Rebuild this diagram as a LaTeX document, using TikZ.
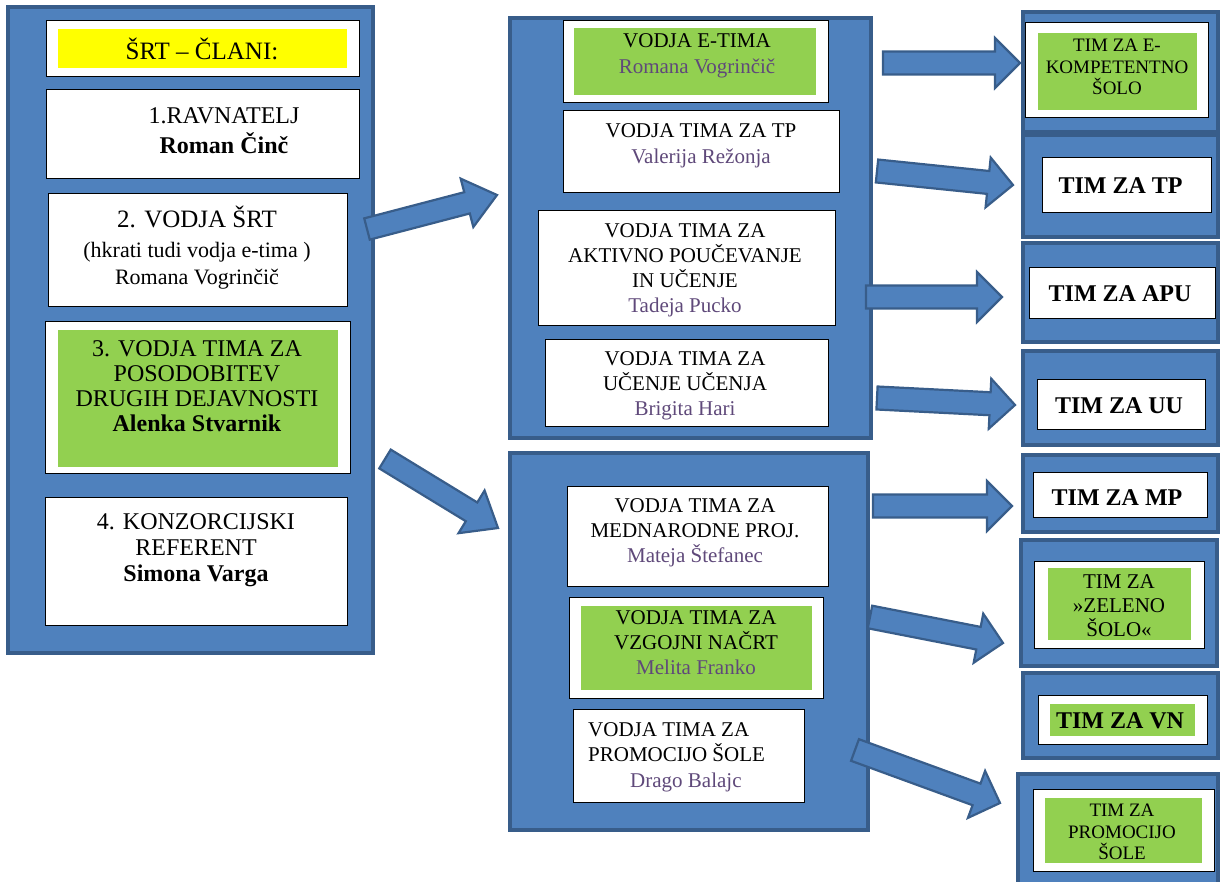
\documentclass[tikz,border=0pt]{standalone}
\usepackage{fontspec}
\setmainfont{Liberation Serif}
\usetikzlibrary{calc}
\definecolor{bblue}{HTML}{4F81BD}
\definecolor{bdark}{HTML}{385D8A}
\definecolor{lgreen}{HTML}{92D050}
\definecolor{yel}{HTML}{FFFF00}
\definecolor{purp}{HTML}{5F497A}
\newcommand{\myfs}[2]{\fontsize{#1}{#2}\selectfont}
\newcommand{\blockarr}[5]{%
  \draw[barrow] ($(#1)!#3!90:(#2)$) -- ($(#2)!#5!(#1)!#3!-90:(#1)$) -- ($(#2)!#5!(#1)!#4!-90:(#1)$) -- (#2)
     -- ($(#2)!#5!(#1)!#4!90:(#1)$) -- ($(#2)!#5!(#1)!#3!90:(#1)$) -- ($(#1)!#3!-90:(#2)$) -- cycle;}
\tikzset{
  panel/.style={draw=bdark, fill=bblue, line width=4.5pt, inner sep=0pt, outer sep=0pt},
  wbox/.style={draw=black, fill=white, line width=1pt, inner sep=0pt},
  gbox/.style={fill=lgreen, inner sep=0pt},
  ybox/.style={fill=yel, inner sep=0pt},
  txt/.style={align=center, inner sep=0pt},
  barrow/.style={draw=bdark, fill=bblue, line width=2.2pt, line join=miter},
}
\begin{document}
\begin{tikzpicture}[x=1pt, y=-1pt]
\useasboundingbox (0,0) rectangle (1224,882);
% ---------------- left panel
\node[panel, minimum width=365pt, minimum height=646pt] (lp) at (190.5,330) {};
\node[wbox, minimum width=313pt, minimum height=56pt] (l0) at (202.5,49) {};
\node[ybox, minimum width=289pt, minimum height=39pt] (l0y) at (202.5,48.5) {};
\node[txt, font=\myfs{25}{26}] (l0t) at (202,49) {ŠRT – ČLANI:};
\node[wbox, minimum width=313pt, minimum height=89pt] (l1) at (202.5,134.5) {};
\node[txt, font=\myfs{24}{30}] (l1t) at (224,131) {1.RAVNATELJ\\\textbf{Roman Činč}};
\node[wbox, minimum width=299pt, minimum height=113pt] (l2) at (197.5,250.5) {};
\node[txt, font=\myfs{22}{27}] (l2t) at (197,248) {{\myfs{25}{27}2. VODJA ŠRT}\\[3pt](hkrati tudi vodja e-tima )\\Romana Vogrinčič};
\node[wbox, minimum width=305pt, minimum height=152pt] (l3) at (197.5,398) {};
\node[gbox, minimum width=280pt, minimum height=137pt] (l3g) at (198,398.5) {};
\node[txt, font=\myfs{24}{25}] (l3t) at (197,386) {3. VODJA TIMA ZA\\POSODOBITEV\\DRUGIH DEJAVNOSTI\\\textbf{Alenka Stvarnik}};
\node[wbox, minimum width=302pt, minimum height=128pt] (l4) at (196,561) {};
\node[txt, font=\myfs{24}{26}] (l4t) at (196,550) {4. KONZORCIJSKI\\REFERENT\\\textbf{Simona Varga}};
% ---------------- middle top panel
\node[panel, minimum width=361pt, minimum height=420pt] (mt) at (690.5,228) {};
\node[wbox, minimum width=265pt, minimum height=82pt] (m1) at (695.5,62) {};
\node[gbox, minimum width=242pt, minimum height=67pt] (m1g) at (695,61.5) {};
\node[txt, font=\myfs{21}{26}] (m1t) at (697,56) {VODJA E-TIMA\\\textcolor{purp}{Romana Vogrinčič}};
\node[wbox, minimum width=276pt, minimum height=82pt] (m2) at (701,152) {};
\node[txt, font=\myfs{21}{26}] (m2t) at (701,146) {VODJA TIMA ZA TP\\\textcolor{purp}{Valerija Režonja}};
\node[wbox, minimum width=297pt, minimum height=115pt] (m3) at (686.5,268.5) {};
\node[txt, font=\myfs{21}{25}] (m3t) at (685,270) {VODJA TIMA ZA\\AKTIVNO POUČEVANJE\\IN UČENJE\\\textcolor{purp}{Tadeja Pucko}};
\node[wbox, minimum width=283pt, minimum height=87pt] (m4) at (686.5,383.5) {};
\node[txt, font=\myfs{21}{25}] (m4t) at (685,386) {VODJA TIMA ZA\\UČENJE UČENJA\\\textcolor{purp}{Brigita Hari}};
% ---------------- middle bottom panel
\node[panel, minimum width=358pt, minimum height=377pt] (mb) at (689,641.5) {};
\node[wbox, minimum width=261pt, minimum height=100pt] (m5) at (697.5,536) {};
\node[txt, font=\myfs{21}{25}] (m5t) at (695,533) {VODJA TIMA ZA\\MEDNARODNE PROJ.\\\textcolor{purp}{Mateja Štefanec}};
\node[wbox, minimum width=254pt, minimum height=101pt] (m6) at (696,647.5) {};
\node[gbox, minimum width=231pt, minimum height=84pt] (m6g) at (696.5,648) {};
\node[txt, font=\myfs{21}{25}] (m6t) at (696,643) {VODJA TIMA ZA\\VZGOJNI NAČRT\\\textcolor{purp}{Melita Franko}};
\node[wbox, minimum width=231pt, minimum height=93pt] (m7) at (688.5,755.5) {};
\node[align=left, inner sep=0pt, anchor=west, font=\myfs{21}{25}] (m7t) at (588,757) {VODJA TIMA ZA\\PROMOCIJO ŠOLE\\[1pt]\hspace*{42pt}\textcolor{purp}{Drago Balajc}};
% ---------------- right column
\node[panel, minimum width=195pt, minimum height=120pt] (r1) at (1120.5,72) {};
\node[wbox, minimum width=183pt, minimum height=95pt] (r1w) at (1116.5,70.5) {};
\node[gbox, minimum width=159pt, minimum height=77pt] (r1g) at (1117.5,71.5) {};
\node[txt, font=\myfs{19}{21.5}] (r1t) at (1117,67) {TIM ZA E-\\KOMPETENTNO\\ŠOLO};
\node[panel, minimum width=195pt, minimum height=102pt] (r2) at (1120.5,186) {};
\node[wbox, minimum width=169pt, minimum height=55pt] (r2w) at (1126.5,185.5) {};
\node[txt, font=\myfs{24}{26}\bfseries] (r2t) at (1120.5,186) {TIM ZA TP};
\node[panel, minimum width=195pt, minimum height=99pt] (r3) at (1120.5,292.5) {};
\node[wbox, minimum width=186pt, minimum height=51pt] (r3w) at (1122,293.5) {};
\node[txt, font=\myfs{24}{26}\bfseries] (r3t) at (1120,294) {TIM ZA APU};
\node[panel, minimum width=195pt, minimum height=94pt] (r4) at (1120.5,398) {};
\node[wbox, minimum width=168pt, minimum height=50pt] (r4w) at (1121,405) {};
\node[txt, font=\myfs{24}{26}\bfseries] (r4t) at (1119,406) {TIM ZA UU};
\node[panel, minimum width=195pt, minimum height=77pt] (r5) at (1120.5,493.5) {};
\node[wbox, minimum width=174pt, minimum height=44pt] (r5w) at (1120,495) {};
\node[txt, font=\myfs{24}{26}\bfseries] (r5t) at (1117,498) {TIM ZA MP};
\node[panel, minimum width=196pt, minimum height=126pt] (r6) at (1119,603) {};
\node[wbox, minimum width=170pt, minimum height=87pt] (r6w) at (1119,604.5) {};
\node[gbox, minimum width=143pt, minimum height=72pt] (r6g) at (1119.5,604) {};
\node[txt, font=\myfs{21}{24}] (r6t) at (1119,606) {TIM ZA\\»ZELENO\\ŠOLO«};
\node[panel, minimum width=195pt, minimum height=85pt] (r7) at (1120.5,715.5) {};
\node[wbox, minimum width=169pt, minimum height=49pt] (r7w) at (1122.5,719.5) {};
\node[gbox, minimum width=145pt, minimum height=32pt] (r7g) at (1122.5,720) {};
\node[txt, font=\myfs{24}{26}\bfseries] (r7t) at (1120,721) {TIM ZA VN};
\node[panel, minimum width=200pt, minimum height=110pt] (r8) at (1118,829) {};
\node[wbox, minimum width=181pt, minimum height=82pt] (r8w) at (1123.5,830) {};
\node[gbox, minimum width=157pt, minimum height=65pt] (r8g) at (1123.5,830.5) {};
\node[txt, font=\myfs{19}{21.5}] (r8t) at (1122,832) {TIM ZA\\PROMOCIJO\\ŠOLE};
% ---------------- arrows
\coordinate (a1s) at (883,63);  \coordinate (a1e) at (1020,63);
\coordinate (a2s) at (877,171); \coordinate (a2e) at (1013,185);
\coordinate (a3s) at (866,297); \coordinate (a3e) at (1002,297);
\coordinate (a4s) at (877,398); \coordinate (a4e) at (1015,405);
\coordinate (a5s) at (873,506); \coordinate (a5e) at (1012,506);
\coordinate (a6s) at (870,617); \coordinate (a6e) at (1003,643);
\coordinate (a7s) at (855,750); \coordinate (a7e) at (1000,803);
\coordinate (b1s) at (367,229); \coordinate (b1e) at (497,195);
\coordinate (b2s) at (385,459); \coordinate (b2e) at (498,528);
\blockarr{a1s}{a1e}{11.5pt}{25pt}{25pt}
\blockarr{a2s}{a2e}{11.5pt}{25pt}{25pt}
\blockarr{a3s}{a3e}{11.5pt}{25pt}{25pt}
\blockarr{a4s}{a4e}{11.5pt}{25pt}{25pt}
\blockarr{a5s}{a5e}{11.5pt}{25pt}{25pt}
\blockarr{a6s}{a6e}{11.5pt}{25pt}{25pt}
\blockarr{a7s}{a7e}{11.5pt}{25pt}{25pt}
\blockarr{b1s}{b1e}{11pt}{25pt}{31pt}
\blockarr{b2s}{b2e}{11pt}{25pt}{31pt}
\end{tikzpicture}
\end{document}
